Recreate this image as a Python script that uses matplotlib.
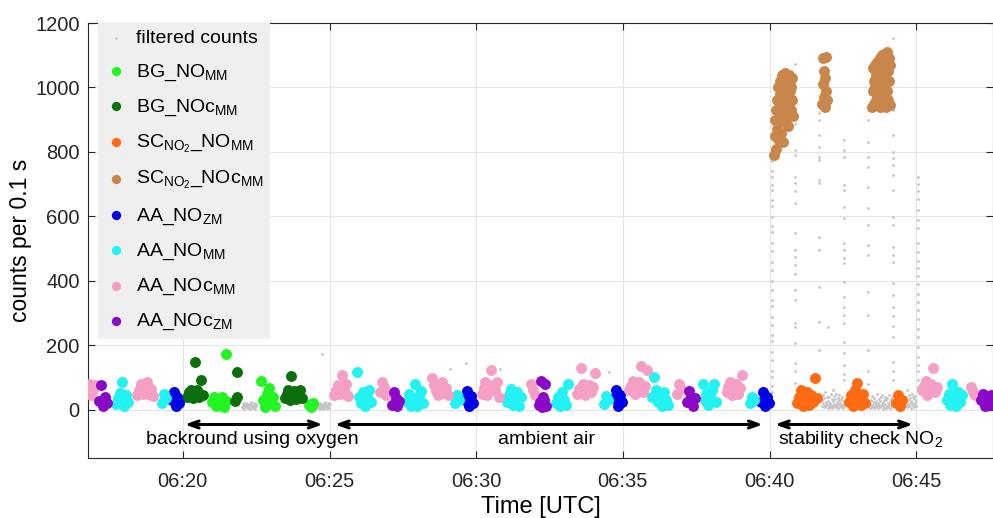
import numpy as np
import matplotlib
matplotlib.use("Agg")
import matplotlib.pyplot as plt
from matplotlib.ticker import FuncFormatter, MultipleLocator

plt.rcParams['font.family'] = ['Liberation Sans', 'DejaVu Sans']
plt.rcParams['mathtext.fontset'] = 'custom'
plt.rcParams['mathtext.rm'] = 'Liberation Sans'
plt.rcParams['mathtext.it'] = 'Liberation Sans:italic'
plt.rcParams['mathtext.bf'] = 'Liberation Sans:bold'

# averaged counts, one entry per block: (start time, counts sampled every STEP s)
STEP = 4
STEP_SC = 1      # NO2 stability check was logged at a higher rate
STEP_RAW = 1

bg_no_mm = [("06:21:00", [25, 40, 10, 30, 15, 38, 8, 28]),
            ("06:21:28", [173]),
            ("06:22:40", [90, 30, 8, 50, 68, 20, 40, 12]),
            ("06:24:19", [15, 8, 20])]

bg_noc_mm = [("06:20:09", [40, 55, 62, 36, 50, 60, 38, 93, 45]),
             ("06:20:24", [148]),
             ("06:21:47", [28, 38]),
             ("06:21:50", [118]),
             ("06:23:28", [35, 50, 60, 30, 45, 58, 32, 48, 60, 35]),
             ("06:23:42", [106])]

sc_no_mm = [("06:40:57", [20, 40, 60, 10, 30, 55, 15, 45, 25, 98, 35]),
            ("06:42:43", [25, 45, 10, 60, 83, 35, 15, 50, 20]),
            ("06:44:19", [20, 45, 12, 30])]

sc_noc_mm = [("06:40:10", [790, 850, 900, 930, 810, 960, 870, 1000, 840, 930,
                           900, 980, 1020, 860, 950, 1040, 900, 990, 830, 1010,
                           920, 970, 1045, 890, 960, 1030, 920, 1000, 880, 1040,
                           940, 990, 1020, 930, 1000, 960, 1030, 910]),
             ("06:41:48", [950, 1010, 1090, 970, 1050, 940, 1030, 1095, 990, 960]),
             ("06:43:30", [940, 1060, 990, 1020, 950, 1070, 1000, 960, 1040, 980,
                           1080, 945, 1010, 1050, 970, 1090, 940, 1030, 1000, 960,
                           1100, 990, 950, 1060, 1105, 1000, 960, 1080, 1020, 940,
                           1110, 990, 1050, 960, 1090, 1020, 945, 1070])]

aa_no_zm = [("06:19:37", [30, 55, 10, 40, 20]),
            ("06:29:38", [30, 58, 10, 42, 22]),
            ("06:34:42", [35, 62, 12, 45, 25]),
            ("06:39:43", [25, 55, 10, 40, 22])]

aa_no_mm = [("06:17:44", [18, 35, 52, 86, 12, 45, 25]),
            ("06:19:17", [20, 50, 35]),
            ("06:25:57", [118, 40, 20, 55, 10, 38, 60, 25]),
            ("06:27:39", [25, 50, 12, 35, 79, 10, 45, 58, 20]),
            ("06:29:17", [20, 45, 30]),
            ("06:31:04", [25, 45, 65, 15, 35, 55, 10, 40]),
            ("06:32:44", [20, 40, 10, 55, 30, 15, 79]),
            ("06:34:21", [18, 42, 30]),
            ("06:36:00", [40, 100, 60, 25, 45, 10, 55, 30, 15]),
            ("06:37:43", [79, 30, 50, 15, 40, 60, 80, 25]),
            ("06:39:21", [20, 40, 30]),
            ("06:46:02", [30, 50, 15, 80, 40, 10, 55, 25, 45])]

aa_noc_mm = [("06:16:40", [50, 65, 80, 45, 62, 78]),
             ("06:18:27", [45, 62, 80, 50, 68, 85, 48, 64, 42]),
             ("06:25:10", [45, 62, 78, 50, 108, 65, 80, 42]),
             ("06:26:44", [55, 85, 70, 45]),
             ("06:28:30", [99, 78, 58, 45, 70, 85, 52, 68, 45]),
             ("06:30:11", [50, 68, 85, 45, 62, 124, 78, 60, 85, 40]),
             ("06:31:52", [80, 60, 45]),
             ("06:33:27", [50, 65, 130, 80, 45, 62, 78, 55, 70, 115]),
             ("06:35:13", [60, 75, 90, 50, 68, 85, 134, 55, 72, 124]),
             ("06:36:50", [50, 80, 65]),
             ("06:38:32", [55, 70, 85, 45, 62, 80, 50, 68, 108]),
             ("06:45:11", [60, 75, 90, 45, 62, 80, 129, 55, 70]),
             ("06:46:52", [70, 55, 45])]

aa_noc_zm = [("06:17:08", [28, 76, 12, 38, 20]),
             ("06:27:07", [15, 55, 35, 10, 28]),
             ("06:32:09", [15, 88, 40, 80]),
             ("06:32:11", [25, 8, 30, 12]),
             ("06:37:12", [25, 58, 40, 10, 35]),
             ("06:47:13", [30, 50, 12, 35, 20, 45, 15])]

# raw counts removed by the filter
raw_base = [("06:22:01", [8, 15, 5, 20, 10, 3, 18, 12, 7, 22, 9, 14, 4, 17, 11, 6,
                          19, 2, 13, 24, 8, 16, 5, 11, 21, 7, 14, 3, 18, 10]),
            ("06:24:30", [10, 4, 18, 7, 25, 12, 5, 20, 9, 15, 3, 22, 8, 13, 6, 17,
                          11, 2, 19, 9, 14, 24, 6, 12, 4, 16, 21, 8, 13, 5, 18]),
            ("06:41:47", [30, 12, 45, 20, 8, 35, 15, 55, 25, 10, 40, 18, 6, 28, 14, 38,
                          9, 22, 48, 16, 5, 32, 11, 26, 42, 19, 7, 34, 13, 50, 24, 9,
                          37, 17, 4, 29, 44, 12, 21, 8, 33, 15, 40, 6, 26, 18, 11]),
            ("06:43:25", [18, 6, 30, 12, 42, 9, 24, 15, 4, 35, 20, 8, 27, 13, 50, 10,
                          22, 5, 33, 16, 7, 28, 11, 38, 19, 45, 3, 25, 14, 31, 9, 40,
                          17, 6, 29, 12, 36, 21, 8, 44, 15, 26, 5, 33, 11, 23, 39]),
            ("06:44:37", [25, 10, 40, 15, 60, 8, 30, 18, 45, 12, 22, 35, 6, 28, 50, 14,
                          38, 20, 9, 32, 17, 42, 11, 26])]

raw_times = ["06:24:44", "06:29:06", "06:29:39", "06:30:48", "06:34:31",
             "06:41:59", "06:42:10"]
raw_counts = [173, 127, 145, 127, 118, 257, 62]

# valve switching transients
spike_times = ["06:40:05", "06:40:52", "06:41:41", "06:42:32", "06:43:21",
               "06:44:12", "06:45:03"]
spike_counts = [
    [790, 772, 741, 722, 698, 683, 652, 633, 598, 571, 552, 518, 493, 457, 433,
     398, 372, 341, 322, 288, 262, 231, 212, 178, 153, 121, 102, 73, 55],
    [1074, 888, 805, 790, 721, 702, 680, 640, 548, 495, 474, 450, 420, 371, 340,
     269, 257, 207, 145, 120, 84],
    [920, 898, 851, 815, 783, 774, 712, 702, 536, 495, 381, 272, 186],
    [836, 805, 783, 697, 681, 630, 594, 517, 495, 470, 455, 396, 350, 320, 295,
     269, 210, 175, 140, 110, 93],
    [929, 898, 830, 783, 752, 690, 625, 573, 511, 480, 365, 294, 186, 120, 80],
    [1152, 929, 851, 799, 780, 758, 728, 681, 598, 573, 505, 480, 458, 393, 356,
     320, 290, 260, 226, 149, 120, 93],
    [721, 700, 680, 655, 619, 590, 565, 517, 490, 460, 440, 415, 390, 360, 335,
     310, 280, 250, 226, 195, 164, 140, 120, 93, 70],
]


def minutes(hms):
    h, m, s = map(int, hms.split(":"))
    return (h - 6) * 60 + m + s / 60.0


def expand(segments, step):
    t, y = [], []
    for start, counts in segments:
        t0 = minutes(start)
        for i, c in enumerate(counts):
            t.append(t0 + i * step / 60.0)
            y.append(c)
    return np.array(t), np.array(y)


fig = plt.figure(figsize=(9.93, 5.18), dpi=100)
ax = fig.add_axes([88 / 993, 60 / 518, 905 / 993, 435 / 518])

# filtered counts underneath everything else
gt, gy = expand(raw_base, STEP_RAW)
st = np.concatenate([[minutes(t)] * len(c) for t, c in zip(spike_times, spike_counts)])
sy = np.concatenate(spike_counts)
it = np.array([minutes(t) for t in raw_times])
gt = np.concatenate([gt, st, it])
gy = np.concatenate([gy, sy, raw_counts])
h_raw = ax.scatter(gt, gy, s=4, color='#c4c4c4', linewidths=0, zorder=2,
                   label='filtered counts')

series = [
    (bg_no_mm, STEP, '#22f522', r'BG_NO$_{\rm MM}$'),
    (bg_noc_mm, STEP, '#0b700b', r'BG_NOc$_{\rm MM}$'),
    (sc_no_mm, STEP, '#ff6a12', r'SC$_{\rm NO_2}$_NO$_{\rm MM}$'),
    (sc_noc_mm, STEP_SC, '#c8864a', r'SC$_{\rm NO_2}$_NOc$_{\rm MM}$'),
    (aa_no_zm, STEP, '#0000e6', r'AA_NO$_{\rm ZM}$'),
    (aa_no_mm, STEP, '#22f2f2', r'AA_NO$_{\rm MM}$'),
    (aa_noc_mm, STEP, '#f59fc6', r'AA_NOc$_{\rm MM}$'),
    (aa_noc_zm, STEP, '#8a08c8', r'AA_NOc$_{\rm ZM}$'),
]

handles = [h_raw]
for segs, step, col, lab in series:
    t, y = expand(segs, step)
    handles.append(ax.scatter(t, y, s=62, color=col, linewidths=0, zorder=3, label=lab))

ax.set_xlim(minutes("06:16:46"), minutes("06:47:37"))
ax.set_ylim(-150, 1200)
ax.xaxis.set_major_locator(MultipleLocator(5))
ax.xaxis.set_major_formatter(FuncFormatter(lambda v, p: "06:%02d" % int(round(v))))
ax.set_yticks([0, 200, 400, 600, 800, 1000, 1200])
ax.grid(True, color='#e4e4e4', linewidth=0.8, zorder=0)
ax.set_axisbelow(True)
ax.tick_params(direction='in', top=True, right=True, length=5, width=0.8,
               labelsize=14.5, colors='#262626')
ax.tick_params(axis='x', pad=10)
ax.tick_params(axis='y', pad=6)
for sp in ax.spines.values():
    sp.set_color('#262626')
    sp.set_linewidth(0.8)

ax.set_xlabel('Time [UTC]', fontsize=17, labelpad=4)
ax.set_ylabel('counts per 0.1 s', fontsize=16.5, labelpad=2)

# measurement phases
arrow_kw = dict(arrowstyle='<->, head_length=0.7, head_width=0.25',
                color='black', lw=2.2, shrinkA=0, shrinkB=0)
phases = [("06:20:04", "06:24:46", "backround using oxygen", "06:22:23", 'center'),
          ("06:25:11", "06:39:46", "ambient air", "06:32:24", 'center'),
          ("06:40:11", "06:44:53", r"stability check NO$_2$", "06:40:17", 'left')]
for t0, t1, txt, tt, ha in phases:
    ax.annotate('', xy=(minutes(t0), -46), xytext=(minutes(t1), -46),
                arrowprops=arrow_kw, zorder=4)
    ax.text(minutes(tt), -93, txt, ha=ha, va='center', fontsize=14)

leg = ax.legend(handles=handles, loc='upper left', bbox_to_anchor=(0.011, 1.0),
                fontsize=14, frameon=True, fancybox=False, facecolor='#efefef',
                edgecolor='none', framealpha=1, labelspacing=0.76,
                handletextpad=0.4, borderpad=0.35, borderaxespad=0,
                handlelength=1.2, scatterpoints=1, markerscale=0.85)
leg.set_zorder(5)

fig.savefig('out.png', dpi=100)
